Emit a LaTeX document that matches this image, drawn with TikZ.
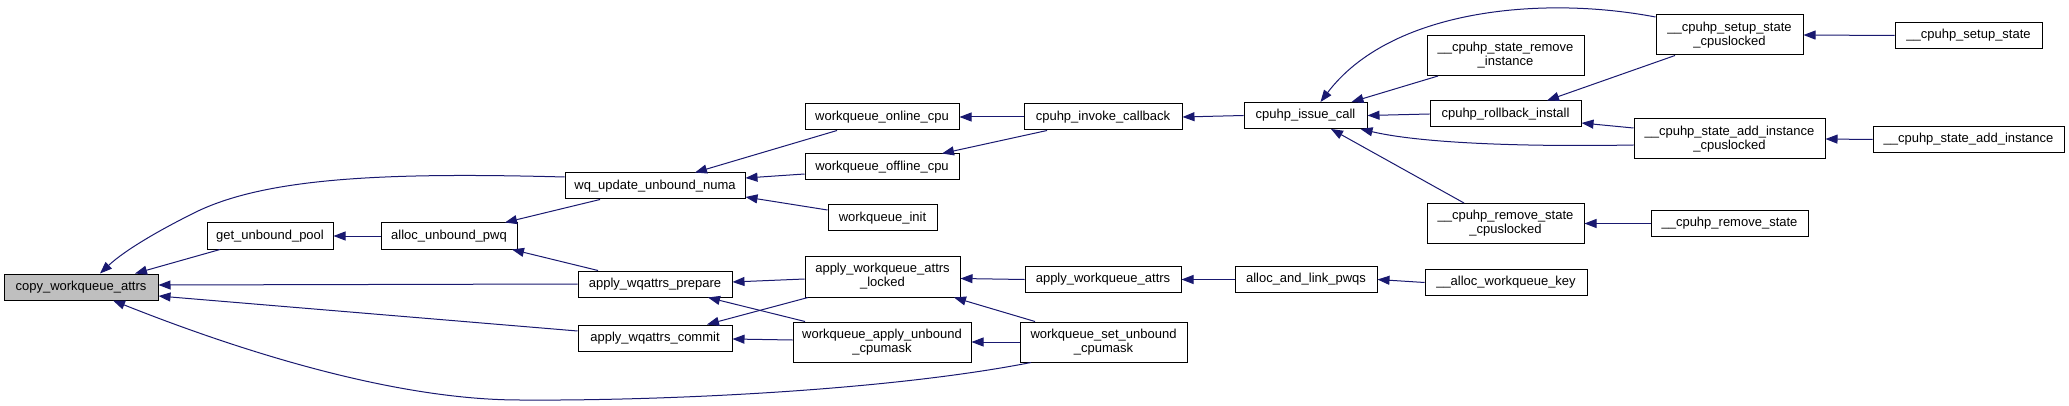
\documentclass[tikz,border=0pt]{standalone}
\usepackage{fontspec}
\setmainfont{Liberation Sans}
\usetikzlibrary{arrows.meta}
\definecolor{edgeblue}{HTML}{191970}
\definecolor{rootgray}{HTML}{BFBFBF}
\begin{document}
\begin{tikzpicture}[x=1pt,y=-1pt,
  box/.style={draw=black, fill=white, line width=1pt, inner sep=0pt, align=center, font=\fontsize{13}{14}\selectfont},
  edge/.style={draw=edgeblue, line width=1pt, -{Triangle[length=12pt,width=9pt]}, fill=none},
]
\useasboundingbox[fill=white] (0,0) rectangle (2069,406);

% nodes
\node[box, fill=rootgray, minimum width=154pt, minimum height=26pt] (copy) at (81,287) {copy\_workqueue\_attrs};
\node[box, minimum width=126pt, minimum height=26pt] (gup) at (270,236) {get\_unbound\_pool};
\node[box, minimum width=136pt, minimum height=26pt] (aup) at (449,236) {alloc\_unbound\_pwq};
\node[box, minimum width=180pt, minimum height=26pt] (wqu) at (655,186) {wq\_update\_unbound\_numa};
\node[box, minimum width=154pt, minimum height=26pt] (won) at (882,117) {workqueue\_online\_cpu};
\node[box, minimum width=154pt, minimum height=26pt] (woff) at (882,167) {workqueue\_offline\_cpu};
\node[box, minimum width=109pt, minimum height=26pt] (winit) at (882.5,218) {workqueue\_init};
\node[box, minimum width=154pt, minimum height=26pt] (prep) at (655,284) {apply\_wqattrs\_prepare};
\node[box, minimum width=154pt, minimum height=26pt] (commit) at (655,338) {apply\_wqattrs\_commit};
\node[box, minimum width=155pt, minimum height=41pt] (awl) at (882.5,276.5) {apply\_workqueue\_attrs\\\_locked};
\node[box, minimum width=178pt, minimum height=40pt] (wau) at (882,342) {workqueue\_apply\_unbound\\\_cpumask};
\node[box, minimum width=158pt, minimum height=26pt] (cic) at (1103,117) {cpuhp\_invoke\_callback};
\node[box, minimum width=156pt, minimum height=26pt] (awa) at (1103,279.5) {apply\_workqueue\_attrs};
\node[box, minimum width=167pt, minimum height=40pt] (wsu) at (1103.5,342) {workqueue\_set\_unbound\\\_cpumask};
\node[box, minimum width=123pt, minimum height=26pt] (cis) at (1305.5,115.5) {cpuhp\_issue\_call};
\node[box, minimum width=142pt, minimum height=26pt] (alp) at (1306,279.5) {alloc\_and\_link\_pwqs};
\node[box, minimum width=157pt, minimum height=40pt] (csri) at (1505.5,55.5) {\_\_cpuhp\_state\_remove\\\_instance};
\node[box, minimum width=151pt, minimum height=26pt] (cri) at (1505.5,114) {cpuhp\_rollback\_install};
\node[box, minimum width=157pt, minimum height=40pt] (crsc) at (1505.5,223.5) {\_\_cpuhp\_remove\_state\\\_cpuslocked};
\node[box, minimum width=162pt, minimum height=26pt] (awk) at (1506,282.5) {\_\_alloc\_workqueue\_key};
\node[box, minimum width=147pt, minimum height=40pt] (cssc) at (1729.5,35) {\_\_cpuhp\_setup\_state\\\_cpuslocked};
\node[box, minimum width=191pt, minimum height=40pt] (csai) at (1729.5,139) {\_\_cpuhp\_state\_add\_instance\\\_cpuslocked};
\node[box, minimum width=157pt, minimum height=26pt] (crs) at (1729.5,223.5) {\_\_cpuhp\_remove\_state};
\node[box, minimum width=147pt, minimum height=26pt] (css) at (1968.5,35.5) {\_\_cpuhp\_setup\_state};
\node[box, minimum width=191pt, minimum height=26pt] (csa) at (1968.5,139.5) {\_\_cpuhp\_state\_add\_instance};

% edges (caller -> callee)
\draw[edge] ([xshift=-50pt]gup.south) -- ([xshift=54pt]copy.north);
\draw[edge] (aup.west) -- (gup.east);
\draw[edge] ([xshift=-55pt]wqu.south) -- ([xshift=56pt]aup.north);
\draw[edge] ([xshift=-57pt]prep.north) -- ([xshift=63pt]aup.south);
\draw[edge] (prep.west) -- ([yshift=2pt]copy.east);
\draw[edge] ([yshift=7pt]commit.west) -- ([yshift=-9pt]copy.east);
\draw[edge] ([xshift=-72.5pt]wsu.south) .. controls (880,392) and (650,401) .. (520,400)
   .. controls (400,400) and (250,355) .. ([xshift=32pt]copy.south);
\draw[edge] ([yshift=9pt]wqu.west) .. controls (380,172) and (260,178) .. (190,215)
   .. controls (160,230) and (125,250) .. ([xshift=19pt]copy.north);
\draw[edge] ([xshift=-45pt]won.south) -- ([xshift=40pt]wqu.north);
\draw[edge] ([yshift=-7pt]woff.west) -- ([yshift=8pt]wqu.east);
\draw[edge] ([yshift=8pt]winit.west) -- ([yshift=-11pt]wqu.east);
\draw[edge] (cic.west) -- (won.east);
\draw[edge] ([xshift=-56pt]cic.south) -- ([xshift=60pt]woff.north);
\draw[edge] (cis.west) -- (cic.east);
\draw[edge] ([yshift=18pt]cssc.west) .. controls (1540,-5) and (1390,10) .. ([xshift=15pt]cis.north);
\draw[edge] ([xshift=-67.5pt]csri.south) -- ([xshift=46pt]cis.north);
\draw[edge] (cri.west) -- (cis.east);
\draw[edge] ([yshift=-6pt]csai.west) .. controls (1520,147) and (1420,143) .. ([xshift=55pt]cis.south);
\draw[edge] ([xshift=-41.5pt]crsc.north) -- ([xshift=25.5pt]cis.south);
\draw[edge] ([xshift=-54.5pt]cssc.south) -- ([xshift=41.5pt]cri.north);
\draw[edge] ([yshift=11pt]csai.west) -- ([yshift=-9pt]cri.east);
\draw[edge] (css.west) -- (cssc.east);
\draw[edge] (csa.west) -- (csai.east);
\draw[edge] (crs.west) -- (crsc.east);
\draw[edge] ([yshift=-2.5pt]awl.west) -- ([yshift=2pt]prep.east);
\draw[edge] ([xshift=-74.5pt]awl.south) -- ([xshift=52pt]commit.north);
\draw[edge] ([xshift=-77pt]wau.north) -- ([xshift=53pt]prep.south);
\draw[edge] ([yshift=2pt]wau.west) -- ([yshift=-1pt]commit.east);
\draw[edge] (awa.west) -- ([yshift=-2pt]awl.east);
\draw[edge] ([xshift=-68.5pt]wsu.north) -- ([xshift=71.5pt]awl.south);
\draw[edge] (wsu.west) -- (wau.east);
\draw[edge] (alp.west) -- (awa.east);
\draw[edge] (awk.west) -- (alp.east);
\end{tikzpicture}
\end{document}
